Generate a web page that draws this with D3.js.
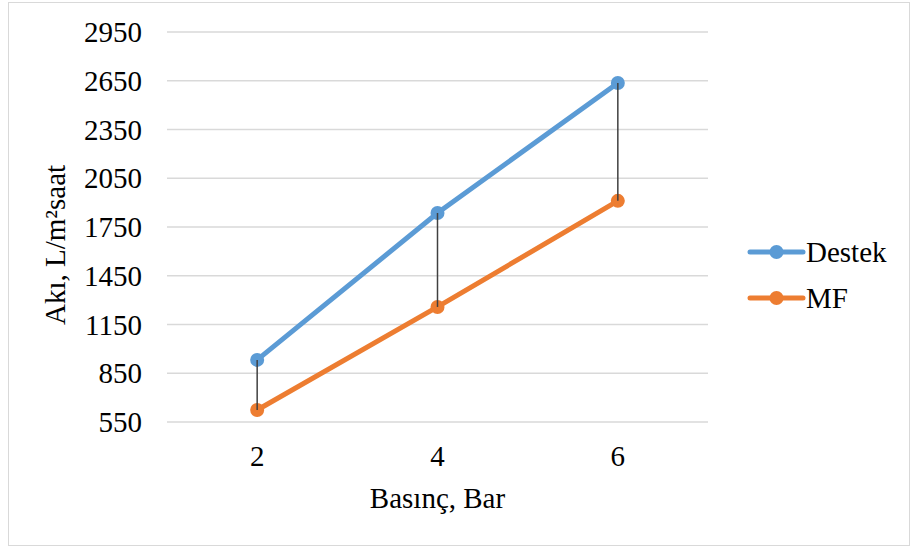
<!DOCTYPE html>
<html>
<head>
<meta charset="utf-8">
<script src="https://cdn.jsdelivr.net/npm/d3@7"></script>
<style>
  body { margin: 0; background: #fff; }
  svg text { font-family: "Liberation Serif", "Times New Roman", serif !important; fill: #000; }
</style>
</head>
<body>
<div id="chart"></div>
<script>
const categories = ["2", "4", "6"];
const destek = [932, 1836, 2636];
const mf = [624, 1258, 1911];
const yTicks = [550, 850, 1150, 1450, 1750, 2050, 2350, 2650, 2950];
const seriesNames = ["Destek", "MF"];

const width = 910, height = 547;
const margin = { left: 167, right: 202, top: 32, bottom: 125 };
const fontSize = "29px";

const svg = d3.select("#chart").append("svg")
    .attr("width", width)
    .attr("height", height);

svg.append("rect")
    .attr("x", 8.5).attr("y", 2.5)
    .attr("width", 901).attr("height", 543)
    .attr("fill", "#fff")
    .attr("stroke", "#d9d9d9");

const x = d3.scaleBand()
    .domain(categories)
    .range([margin.left, width - margin.right]);

const y = d3.scaleLinear()
    .domain([550, 2950])
    .range([height - margin.bottom, margin.top]);

// grid
svg.append("g").selectAll("line")
    .data(yTicks)
    .enter().append("line")
    .attr("x1", margin.left).attr("x2", width - margin.right)
    .attr("y1", d => y(d)).attr("y2", d => y(d))
    .attr("stroke", "#d9d9d9")
    .attr("stroke-width", 1.5);

const yAxis = svg.append("g")
    .attr("transform", `translate(${margin.left - 25},0)`)
    .call(d3.axisLeft(y).tickValues(yTicks).tickFormat(d3.format("d")).tickSize(0).tickPadding(0));
yAxis.select(".domain").remove();
yAxis.selectAll("text").style("font-size", fontSize).attr("dy", "0.33em");

const xAxis = svg.append("g")
    .attr("transform", `translate(0,${height - margin.bottom + 23})`)
    .call(d3.axisBottom(x).tickSize(0).tickPadding(0));
xAxis.select(".domain").remove();
xAxis.selectAll("text").style("font-size", fontSize).attr("dy", "0.71em");

// axis titles
svg.append("text")
    .attr("x", (margin.left + width - margin.right) / 2)
    .attr("y", 508)
    .attr("text-anchor", "middle")
    .style("font-size", fontSize)
    .text("Basınç, Bar");

svg.append("text")
    .attr("transform", `translate(65,${(margin.top + height - margin.bottom) / 2 + 18}) rotate(-90)`)
    .attr("text-anchor", "middle")
    .style("font-size", fontSize)
    .text("Akı, L/m²saat");

const cx = d => x(d) + x.bandwidth() / 2;

const colors = ["#5B9BD5", "#ED7D31"];
const line = d3.line().x(d => cx(d[0])).y(d => y(d[1]));

[mf, destek].forEach((vals, k) => {
    const c = k === 0 ? colors[1] : colors[0];
    const pts = categories.map((cat, i) => [cat, vals[i]]);
    svg.append("path")
        .datum(pts)
        .attr("d", line)
        .attr("fill", "none")
        .attr("stroke", c)
        .attr("stroke-width", 5)
        .attr("stroke-linecap", "round");
    svg.append("g").selectAll("circle")
        .data(pts)
        .enter().append("circle")
        .attr("cx", d => cx(d[0]))
        .attr("cy", d => y(d[1]))
        .attr("r", 7)
        .attr("fill", c);
});

// high-low lines on top of markers
svg.append("g").selectAll("line")
    .data(categories)
    .enter().append("line")
    .attr("x1", d => cx(d)).attr("x2", d => cx(d))
    .attr("y1", (d, i) => y(destek[i]))
    .attr("y2", (d, i) => y(mf[i]))
    .attr("stroke", "#404040")
    .attr("stroke-width", 1.5);

// legend
const legend = svg.append("g");
seriesNames.forEach((name, i) => {
    const ly = 252 + i * 46;
    legend.append("line")
        .attr("x1", 750).attr("x2", 803)
        .attr("y1", ly).attr("y2", ly)
        .attr("stroke", colors[i])
        .attr("stroke-width", 5)
        .attr("stroke-linecap", "round");
    legend.append("circle")
        .attr("cx", 776.5).attr("cy", ly).attr("r", 7)
        .attr("fill", colors[i]);
    legend.append("text")
        .attr("x", 806).attr("y", ly)
        .attr("dy", "0.33em")
        .style("font-size", fontSize)
        .text(name);
});
</script>
</body>
</html>
